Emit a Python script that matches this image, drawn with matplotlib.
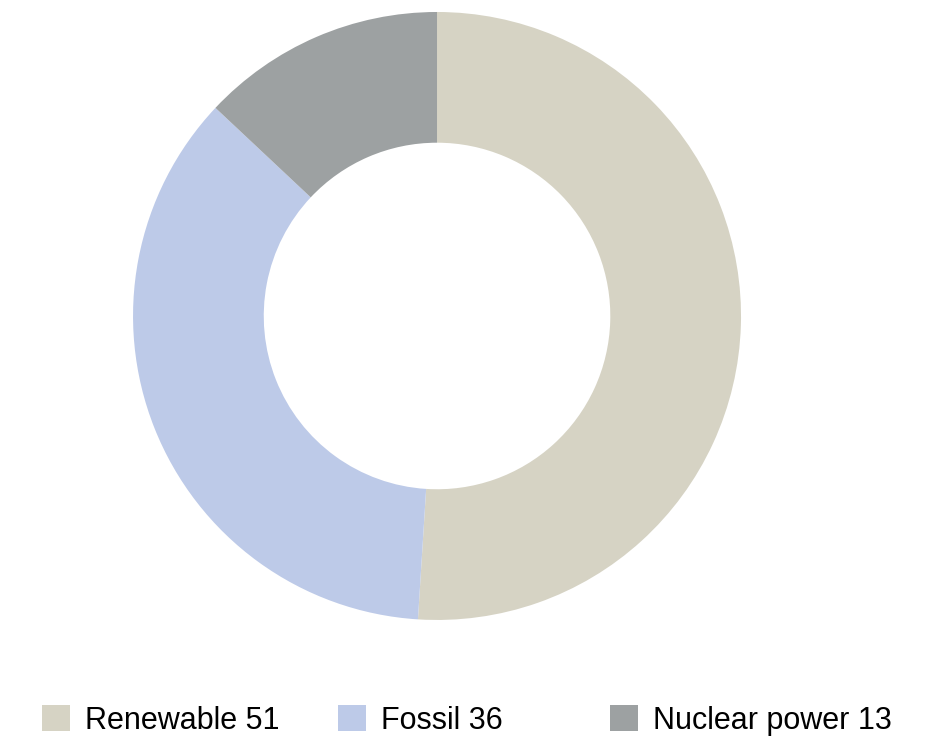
import matplotlib
matplotlib.use("Agg")
import matplotlib.pyplot as plt
from matplotlib.patches import Patch

plt.rcParams['font.family'] = ['Liberation Sans', 'DejaVu Sans']

# Energy mix shares
labels = ["Renewable", "Fossil", "Nuclear power"]
values = [51, 36, 13]
colors = ["#D6D3C4", "#BDCAE8", "#9DA1A2"]

# left edge of each legend entry (figure fraction)
legend_x = [0.0443, 0.3565, 0.6435]

fig = plt.figure(figsize=(9.48, 7.4), dpi=100)
ax = fig.add_axes([0.1403, 0.1622, 0.6414, 0.8216])

ax.pie(values, colors=colors, startangle=90, counterclock=False,
       radius=1.0, wedgeprops=dict(width=0.43, linewidth=0))
ax.set_xlim(-1, 1)
ax.set_ylim(-1, 1)
ax.set_aspect("equal")
ax.axis("off")

for lab, val, col, x in zip(labels, values, colors, legend_x):
    fig.legend([Patch(facecolor=col, edgecolor="none")], [f"{lab} {val}"],
               loc="center left", bbox_to_anchor=(x, 0.0264),
               frameon=False, fontsize=22, handlelength=0.92, handleheight=0.92,
               handletextpad=0.5, borderpad=0, borderaxespad=0)

fig.savefig("out.png", dpi=100, facecolor="white")
